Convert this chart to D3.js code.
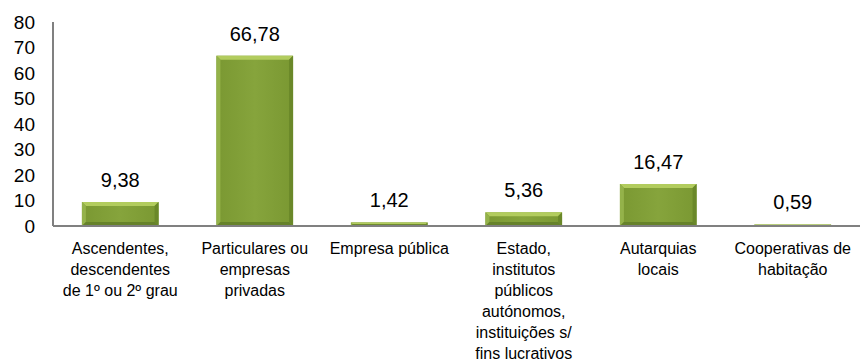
<!DOCTYPE html>
<html><head><meta charset="utf-8">
<script src="https://cdn.jsdelivr.net/npm/d3@7"></script>
<style>body{margin:0;background:#fff}svg{display:block}</style>
</head><body>
<script>
const categories = [
  ["Ascendentes,", "descendentes", "de 1º ou 2º grau"],
  ["Particulares ou", "empresas", "privadas"],
  ["Empresa pública"],
  ["Estado,", "institutos", "públicos", "autónomos,", "instituições s/", "fins lucrativos"],
  ["Autarquias", "locais"],
  ["Cooperativas de", "habitação"]
];
const values = [9.38, 66.78, 1.42, 5.36, 16.47, 0.59];
const valueLabels = ["9,38", "66,78", "1,42", "5,36", "16,47", "0,59"];
const yTicks = [0, 10, 20, 30, 40, 50, 60, 70, 80];

const W = 861, H = 361;
const svg = d3.select("body").append("svg").attr("width", W).attr("height", H);
const mLeft = 53, mRight = 860, mTop = 22, mBottom = 226;

const x = d3.scaleBand().domain(d3.range(values.length)).range([mLeft, mRight]).paddingInner(0.43).paddingOuter(0.215);
const y = d3.scaleLinear().domain([0, 80]).range([mBottom, mTop]);

const defs = svg.append("defs");
const lg = defs.append("linearGradient").attr("id", "barFill").attr("x1", 0).attr("x2", 1).attr("y1", 0).attr("y2", 0);
lg.append("stop").attr("offset", "0%").attr("stop-color", "#7a9832");
lg.append("stop").attr("offset", "50%").attr("stop-color", "#86a43c");
lg.append("stop").attr("offset", "100%").attr("stop-color", "#7a9832");

// y tick labels
svg.append("g").selectAll("text").data(yTicks).join("text")
  .attr("x", 35).attr("y", d => y(d)).attr("dy", "0.35em")
  .attr("text-anchor", "end")
  .attr("font-family", "Liberation Sans, Arial, sans-serif").attr("font-size", 19)
  .attr("fill", "#000").text(d => d);

// bars with bevel
const g = svg.append("g");
values.forEach((v, i) => {
  const x0 = x(i), w = x.bandwidth(), y0 = y(v), h = mBottom - y0;
  const b = Math.min(4, h / 2, w / 2);
  const x1 = x0 + w, y1 = mBottom;
  g.append("rect").attr("x", x0).attr("y", y0).attr("width", w).attr("height", h).attr("fill", "url(#barFill)");
  g.append("polygon").attr("points", [[x0, y0], [x1, y0], [x1 - b, y0 + b], [x0 + b, y0 + b]].join(" ")).attr("fill", "#b2cc5e");
  g.append("polygon").attr("points", [[x0, y0], [x0 + b, y0 + b], [x0 + b, y1 - b], [x0, y1]].join(" ")).attr("fill", "#94b24a");
  g.append("polygon").attr("points", [[x1, y0], [x1 - b, y0 + b], [x1 - b, y1 - b], [x1, y1]].join(" ")).attr("fill", "#6a8829");
  g.append("polygon").attr("points", [[x0, y1], [x0 + b, y1 - b], [x1 - b, y1 - b], [x1, y1]].join(" ")).attr("fill", "#66822a");
});

// value labels
svg.append("g").selectAll("text").data(values).join("text")
  .attr("x", (d, i) => x(i) + x.bandwidth() / 2)
  .attr("y", d => y(d) - 15)
  .attr("text-anchor", "middle")
  .attr("font-family", "Liberation Sans, Arial, sans-serif").attr("font-size", 20)
  .attr("fill", "#000").text((d, i) => valueLabels[i]);

// axes lines
svg.append("line").attr("x1", mLeft).attr("x2", mLeft).attr("y1", mTop).attr("y2", mBottom).attr("stroke", "#808080").attr("stroke-width", 2);
svg.append("line").attr("x1", mLeft).attr("x2", mRight).attr("y1", mBottom).attr("y2", mBottom).attr("stroke", "#808080").attr("stroke-width", 2);

// category labels
const cl = svg.append("g");
categories.forEach((lines, i) => {
  const cx = x(i) + x.bandwidth() / 2;
  const t = cl.append("text")
    .attr("x", cx).attr("y", 254)
    .attr("text-anchor", "middle")
    .attr("font-family", "Liberation Sans, Arial, sans-serif").attr("font-size", 16)
    .attr("fill", "#000");
  lines.forEach((l, j) => t.append("tspan").attr("x", cx).attr("dy", j === 0 ? 0 : 21).text(l));
});
</script>
</body></html>
